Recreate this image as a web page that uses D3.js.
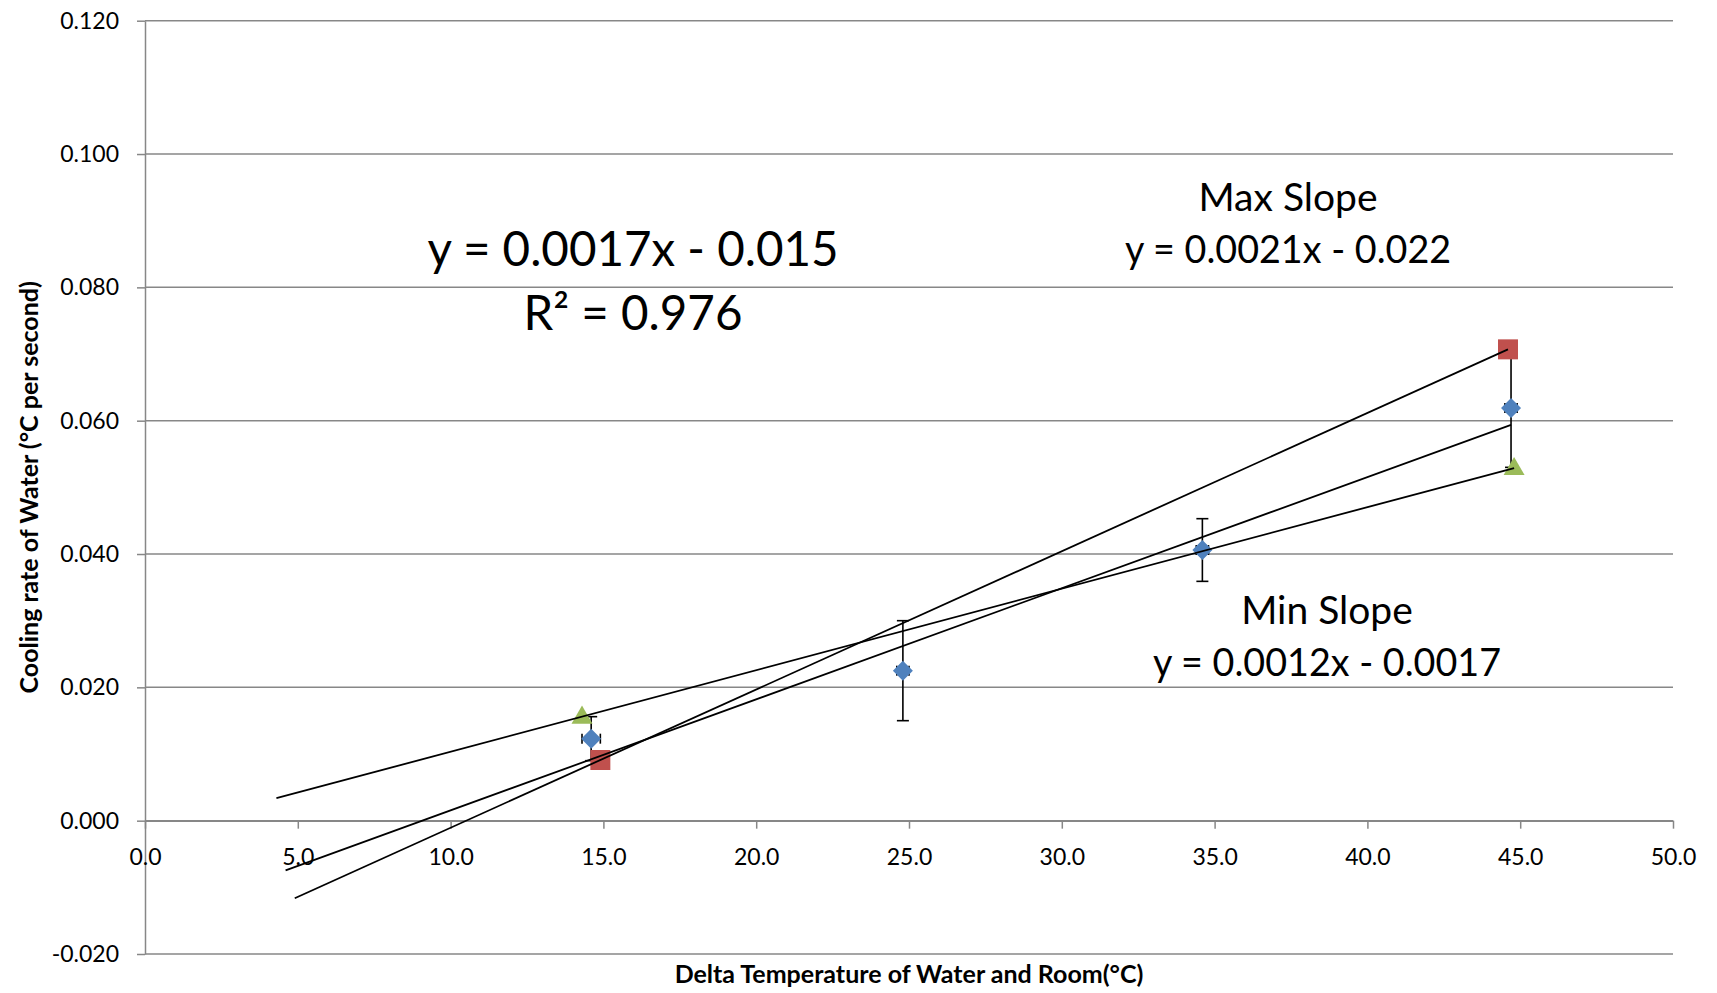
<!DOCTYPE html>
<html>
<head>
<meta charset="utf-8">
<script src="https://cdn.jsdelivr.net/npm/d3@7/dist/d3.min.js"></script>
<style>
    html, body { margin: 0; padding: 0; background: #ffffff; }
    svg { display: block; }
</style>
</head>
<body>
<div id="chart"></div>
<script>
var deltaTemp = [14.6, 24.8, 34.6, 44.7];
var coolingRate = [0.0123, 0.0225, 0.0406, 0.0619];
var rateError = [0.0033, 0.0075, 0.0047, 0.0089];
var tempError = [0.3, 0.2, 0.2, 0.2];

var maxSlopeTemp = [14.9, 44.6];
var maxSlopeRate = [0.0091, 0.0707];
var minSlopeTemp = [14.3, 44.8];
var minSlopeRate = [0.0156, 0.0529];

// trendlines are extended backwards by this many degrees
var backwardForecast = 10;

var xTicks = [0, 5, 10, 15, 20, 25, 30, 35, 40, 45, 50];
var yTicks = [-0.02, 0, 0.02, 0.04, 0.06, 0.08, 0.1, 0.12];

var xTitle = 'Delta Temperature of Water and Room(°C)';
var yTitle = 'Cooling rate of Water (°C per second)';

var width = 1717, height = 993;
var grid = {leftEdge: 145, rightEdge: 1673, topEdge: 20.7, bottomEdge: 954};
var font = 'Lato, "Open Sans", sans-serif';
var axisColor = '#878787';

var x = d3.scaleLinear().domain([0, 50]).range([grid.leftEdge, grid.rightEdge]);
var y = d3.scaleLinear().domain([-0.02, 0.12]).range([grid.bottomEdge, grid.topEdge]);

var fitLine = function(xs, ys){
    var n = xs.length, mx = d3.mean(xs), my = d3.mean(ys), sxx = 0, sxy = 0;
    for (var i = 0; i < n; i++) {
        sxx += (xs[i] - mx) * (xs[i] - mx);
        sxy += (xs[i] - mx) * (ys[i] - my);
    }
    var slope = sxy / sxx, icept = my - slope * mx;
    var x0 = d3.min(xs) - backwardForecast, x1 = d3.max(xs);
    return [[x0, slope * x0 + icept], [x1, slope * x1 + icept]];
};

var fmt = function(spec){
    var f = d3.format(spec);
    return function(d){ return f(d).replace('\u2212', '-'); };
};

var svg = d3.select('#chart').append('svg')
        .attr('width', width)
        .attr('height', height)
        .style('font-family', font);

svg.append('rect').attr('width', width).attr('height', height).attr('fill', '#ffffff');

// gridlines
svg.append('g').selectAll('line')
        .data(yTicks)
        .join('line')
        .attr('x1', grid.leftEdge)
        .attr('x2', grid.rightEdge)
        .attr('y1', function(d){ return y(d); })
        .attr('y2', function(d){ return y(d); })
        .attr('stroke', axisColor)
        .attr('stroke-width', 1.5);

var yAxis = svg.append('g')
        .attr('transform', 'translate(' + grid.leftEdge + ',0)')
        .call(d3.axisLeft(y).tickValues(yTicks).tickFormat(fmt('.3f')).tickSize(8).tickSizeOuter(0).tickPadding(18));

var xAxis = svg.append('g')
        .attr('transform', 'translate(0,' + y(0) + ')')
        .call(d3.axisBottom(x).tickValues(xTicks).tickFormat(fmt('.1f')).tickSize(8).tickSizeOuter(0).tickPadding(20));

[yAxis, xAxis].forEach(function(a){
    a.selectAll('path, line').attr('stroke', axisColor).attr('stroke-width', 1.5);
    a.selectAll('text')
            .attr('fill', '#000000')
            .style('font-family', font)
            .style('font-size', '23px');
});

// error bars
var bars = svg.append('g').attr('stroke', '#000000').attr('stroke-width', 1.6);
deltaTemp.forEach(function(t, i){
    var cx = x(t), cy = y(coolingRate[i]);
    var top = y(coolingRate[i] + rateError[i]), bot = y(coolingRate[i] - rateError[i]);
    var left = x(t - tempError[i]), right = x(t + tempError[i]);
    bars.append('line').attr('x1', cx).attr('x2', cx).attr('y1', top).attr('y2', bot);
    bars.append('line').attr('x1', cx - 6).attr('x2', cx + 6).attr('y1', top).attr('y2', top);
    bars.append('line').attr('x1', cx - 6).attr('x2', cx + 6).attr('y1', bot).attr('y2', bot);
    bars.append('line').attr('x1', left).attr('x2', right).attr('y1', cy).attr('y2', cy);
    bars.append('line').attr('x1', left).attr('x2', left).attr('y1', cy - 5).attr('y2', cy + 5);
    bars.append('line').attr('x1', right).attr('x2', right).attr('y1', cy - 5).attr('y2', cy + 5);
});

// markers
svg.append('g').selectAll('path')
        .data(d3.zip(maxSlopeTemp, maxSlopeRate))
        .join('path')
        .attr('d', d3.symbol().type(d3.symbolSquare).size(400))
        .attr('transform', function(d){ return 'translate(' + x(d[0]) + ',' + y(d[1]) + ')'; })
        .attr('fill', '#C0504D');

svg.append('g').selectAll('path')
        .data(d3.zip(minSlopeTemp, minSlopeRate))
        .join('path')
        .attr('d', d3.symbol().type(d3.symbolTriangle).size(190))
        .attr('transform', function(d){ return 'translate(' + x(d[0]) + ',' + (y(d[1]) + 1) + ')'; })
        .attr('fill', '#9BBB59');

svg.append('g').selectAll('path')
        .data(d3.zip(deltaTemp, coolingRate))
        .join('path')
        .attr('d', d3.symbol().type(d3.symbolSquare).size(200))
        .attr('transform', function(d){ return 'translate(' + x(d[0]) + ',' + y(d[1]) + ')rotate(45)'; })
        .attr('fill', '#4F81BD');

// fit lines
var line = d3.line().x(function(d){ return x(d[0]); }).y(function(d){ return y(d[1]); });
[fitLine(deltaTemp, coolingRate), fitLine(maxSlopeTemp, maxSlopeRate), fitLine(minSlopeTemp, minSlopeRate)].forEach(function(pts){
    svg.append('path')
            .attr('d', line(pts))
            .attr('fill', 'none')
            .attr('stroke', '#000000')
            .attr('stroke-width', 1.8);
});

// annotations
var notes = [
    {text: 'y = 0.0017x - 0.015', x: 633, y: 266, size: 47.5},
    {text: 'R² = 0.976', x: 633, y: 330, size: 47.5},
    {text: 'Max Slope', x: 1288, y: 211, size: 39},
    {text: 'y = 0.0021x - 0.022', x: 1288, y: 263, size: 37.7},
    {text: 'Min Slope', x: 1327, y: 624, size: 39},
    {text: 'y = 0.0012x - 0.0017', x: 1327, y: 676, size: 37.7}
];
svg.append('g').selectAll('text')
        .data(notes)
        .join('text')
        .attr('x', function(d){ return d.x; })
        .attr('y', function(d){ return d.y; })
        .attr('text-anchor', 'middle')
        .style('font-size', function(d){ return d.size + 'px'; })
        .text(function(d){ return d.text; });

svg.append('text')
        .attr('x', (grid.leftEdge + grid.rightEdge) / 2)
        .attr('y', 983)
        .attr('text-anchor', 'middle')
        .style('font-size', '25px')
        .style('font-weight', 'bold')
        .text(xTitle);

svg.append('text')
        .attr('text-anchor', 'middle')
        .attr('transform', 'translate(38,' + ((grid.topEdge + grid.bottomEdge) / 2) + ')rotate(270)')
        .style('font-size', '25px')
        .style('font-weight', 'bold')
        .text(yTitle);
</script>
</body>
</html>
